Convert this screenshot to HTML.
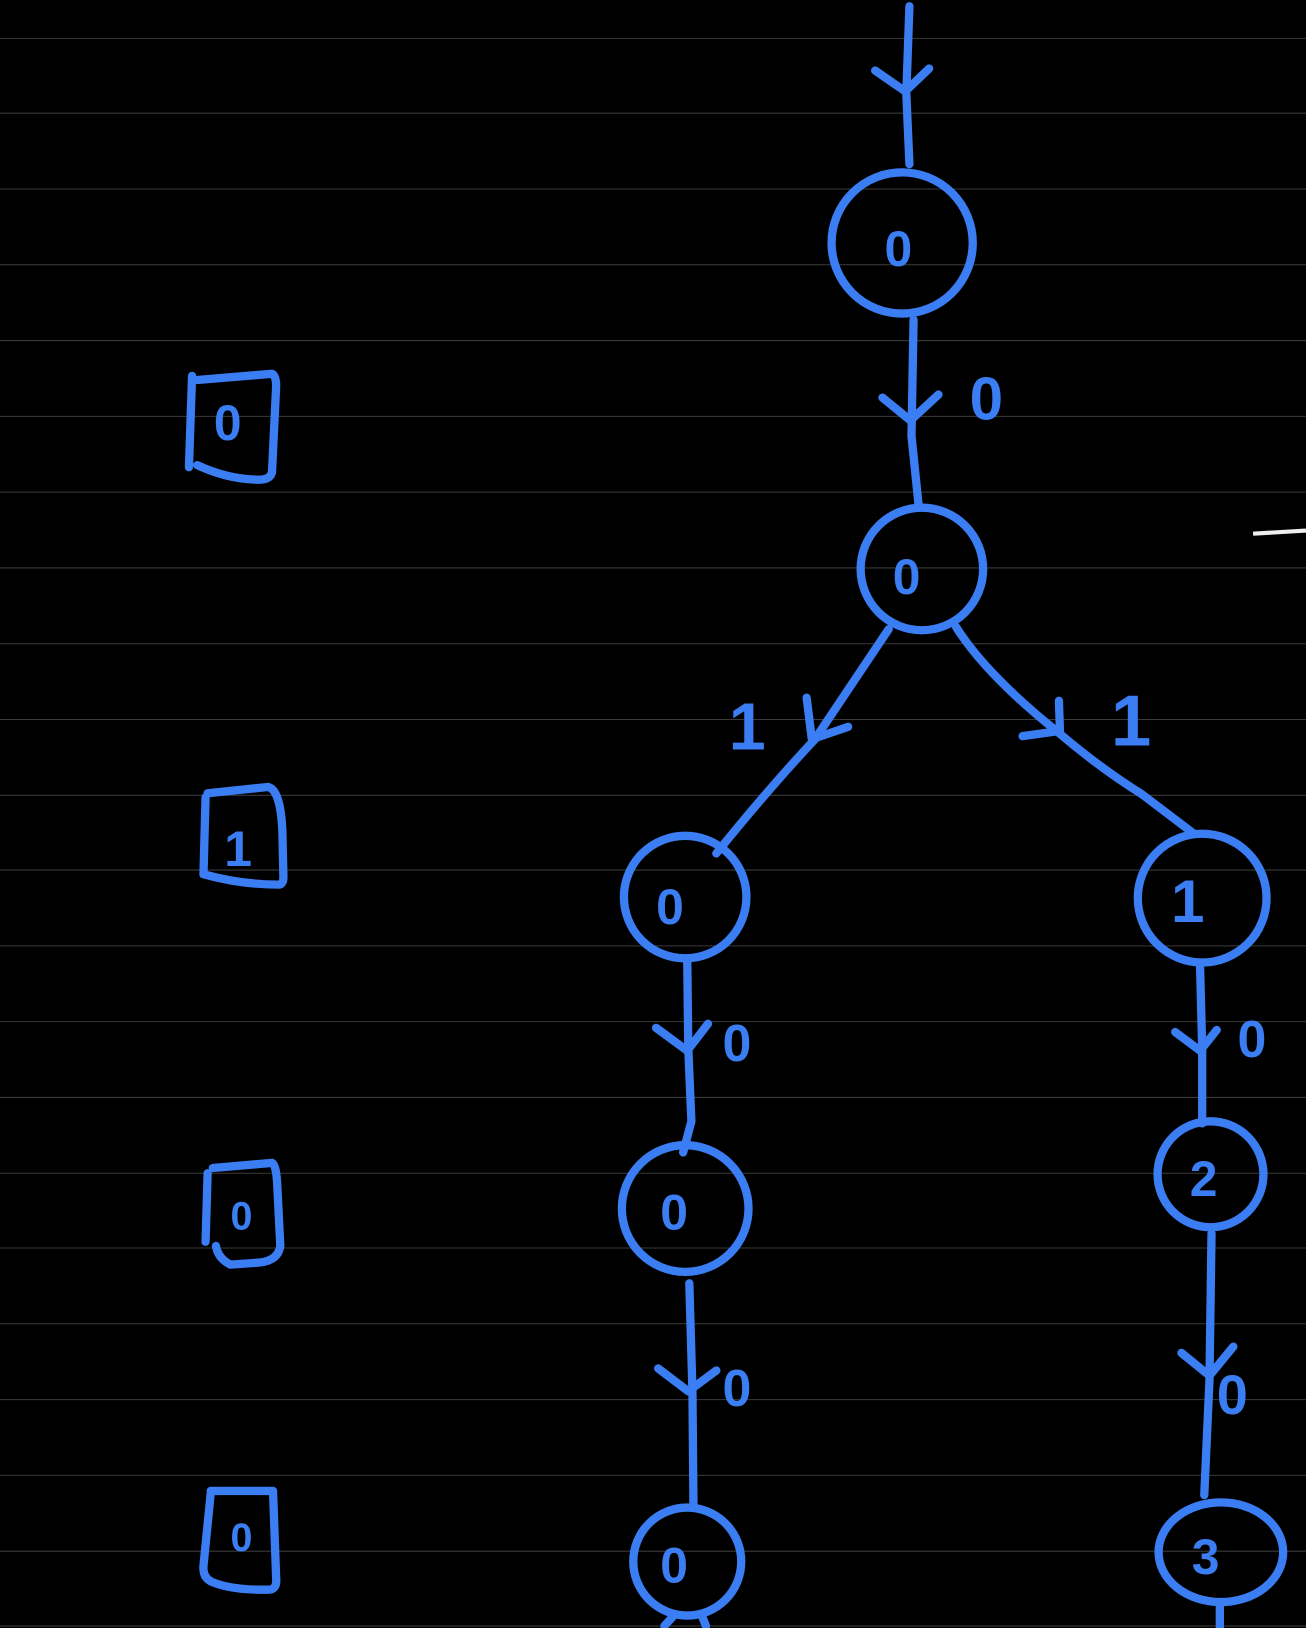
<!DOCTYPE html>
<html><head><style>
html,body{margin:0;padding:0;background:#000;}
svg{display:block;}
text{font-family:"Liberation Sans",sans-serif;fill:#3b7df2;font-weight:bold;}
</style></head><body>
<svg width="1306" height="1628" viewBox="0 0 1258 1568" preserveAspectRatio="none">
<rect width="1258" height="1568" fill="#000"/>
<g stroke="#3a3a3a" stroke-width="1">
<line x1="0" y1="37" x2="1258" y2="37"/><line x1="0" y1="109" x2="1258" y2="109"/>
<line x1="0" y1="182" x2="1258" y2="182"/><line x1="0" y1="255" x2="1258" y2="255"/>
<line x1="0" y1="328" x2="1258" y2="328"/><line x1="0" y1="401" x2="1258" y2="401"/>
<line x1="0" y1="474" x2="1258" y2="474"/><line x1="0" y1="547" x2="1258" y2="547"/>
<line x1="0" y1="620" x2="1258" y2="620"/><line x1="0" y1="693" x2="1258" y2="693"/>
<line x1="0" y1="766" x2="1258" y2="766"/><line x1="0" y1="838" x2="1258" y2="838"/>
<line x1="0" y1="911" x2="1258" y2="911"/><line x1="0" y1="984" x2="1258" y2="984"/>
<line x1="0" y1="1057" x2="1258" y2="1057"/><line x1="0" y1="1130" x2="1258" y2="1130"/>
<line x1="0" y1="1202" x2="1258" y2="1202"/><line x1="0" y1="1275" x2="1258" y2="1275"/>
<line x1="0" y1="1348" x2="1258" y2="1348"/><line x1="0" y1="1421" x2="1258" y2="1421"/>
<line x1="0" y1="1494" x2="1258" y2="1494"/><line x1="0" y1="1566" x2="1258" y2="1566"/>
</g>
<line x1="1207" y1="514" x2="1258" y2="511" stroke="#eee" stroke-width="4"/>
<g stroke="#3b7df2" stroke-width="8" fill="none" stroke-linecap="round" stroke-linejoin="round">
<path d="M876 6 L873 90 L876 158"/><path d="M843 68 L872 88 L895 66"/>
<circle cx="869" cy="234" r="68"/>
<path d="M880 308 L878 420 L885 488"/><path d="M850 383 L877 405 L904 380"/>
<circle cx="888" cy="548" r="59"/>
<path d="M856 606 Q820 660 785 712 Q740 760 690 822"/><path d="M777 672 L782 712 L817 700"/>
<path d="M921 604 Q950 650 1020 706 Q1060 740 1100 765 L1150 803"/><path d="M1020 675 L1021 704 L985 709"/>
<circle cx="660" cy="864" r="59" /><circle cx="1158" cy="865" r="62"/>
<path d="M662 926 L663 1010 L666 1080 L658 1110"/><path d="M632 990 L662 1012 L682 986"/>
<path d="M1156 932 L1158 1010 L1158 1082"/><path d="M1132 994 L1156 1012 L1172 992"/>
<circle cx="660" cy="1164" r="61"/><circle cx="1166" cy="1131" r="51"/>
<path d="M664 1236 L667 1340 L668 1452"/><path d="M634 1318 L663 1340 L690 1320"/>
<path d="M1167 1188 L1165 1330 L1160 1440"/><path d="M1138 1303 L1165 1325 L1188 1297"/>
<circle cx="662" cy="1504" r="52"/><ellipse cx="1176" cy="1495" rx="60" ry="48"/>
<path d="M640 1566 L650 1555 M676 1556 L680 1566"/><path d="M1175 1543 L1175 1568"/>
<path d="M185 362 L182 450 M190 366 L262 360 Q266 362 266 372 L262 455 Q260 462 250 462 Q220 462 190 448"/>
<path d="M198 768 L196 842 Q232 852 268 852 Q273 852 273 845 L272 800 Q270 760 258 758 L200 764"/>
<path d="M200 1130 L198 1196 M205 1125 L262 1120 Q266 1122 267 1140 L270 1200 Q268 1214 250 1216 L222 1218 Q210 1212 208 1200"/>
<path d="M203 1438 L196 1508 Q195 1520 205 1524 Q225 1532 260 1531 Q267 1530 266 1520 L263 1436 L203 1436"/>
</g>
<g font-size="48">
<text x="852" y="256">0</text><text x="934" y="404" font-size="58">0</text>
<text x="860" y="572">0</text>
<text x="702" y="722" font-size="64">1</text><text x="1070" y="718" font-size="70">1</text>
<text x="632" y="890">0</text><text x="1128" y="888" font-size="58">1</text>
<text x="696" y="1022" font-size="50">0</text><text x="1192" y="1018" font-size="50">0</text>
<text x="636" y="1184">0</text><text x="1146" y="1152">2</text>
<text x="696" y="1354" font-size="50">0</text><text x="1172" y="1362" font-size="54">0</text>
<text x="636" y="1524">0</text><text x="1148" y="1516">3</text>
<text x="206" y="424">0</text><text x="216" y="834">1</text>
<text x="222" y="1184" font-size="38">0</text><text x="222" y="1494" font-size="38">0</text>
</g>
</svg>
</body></html>
